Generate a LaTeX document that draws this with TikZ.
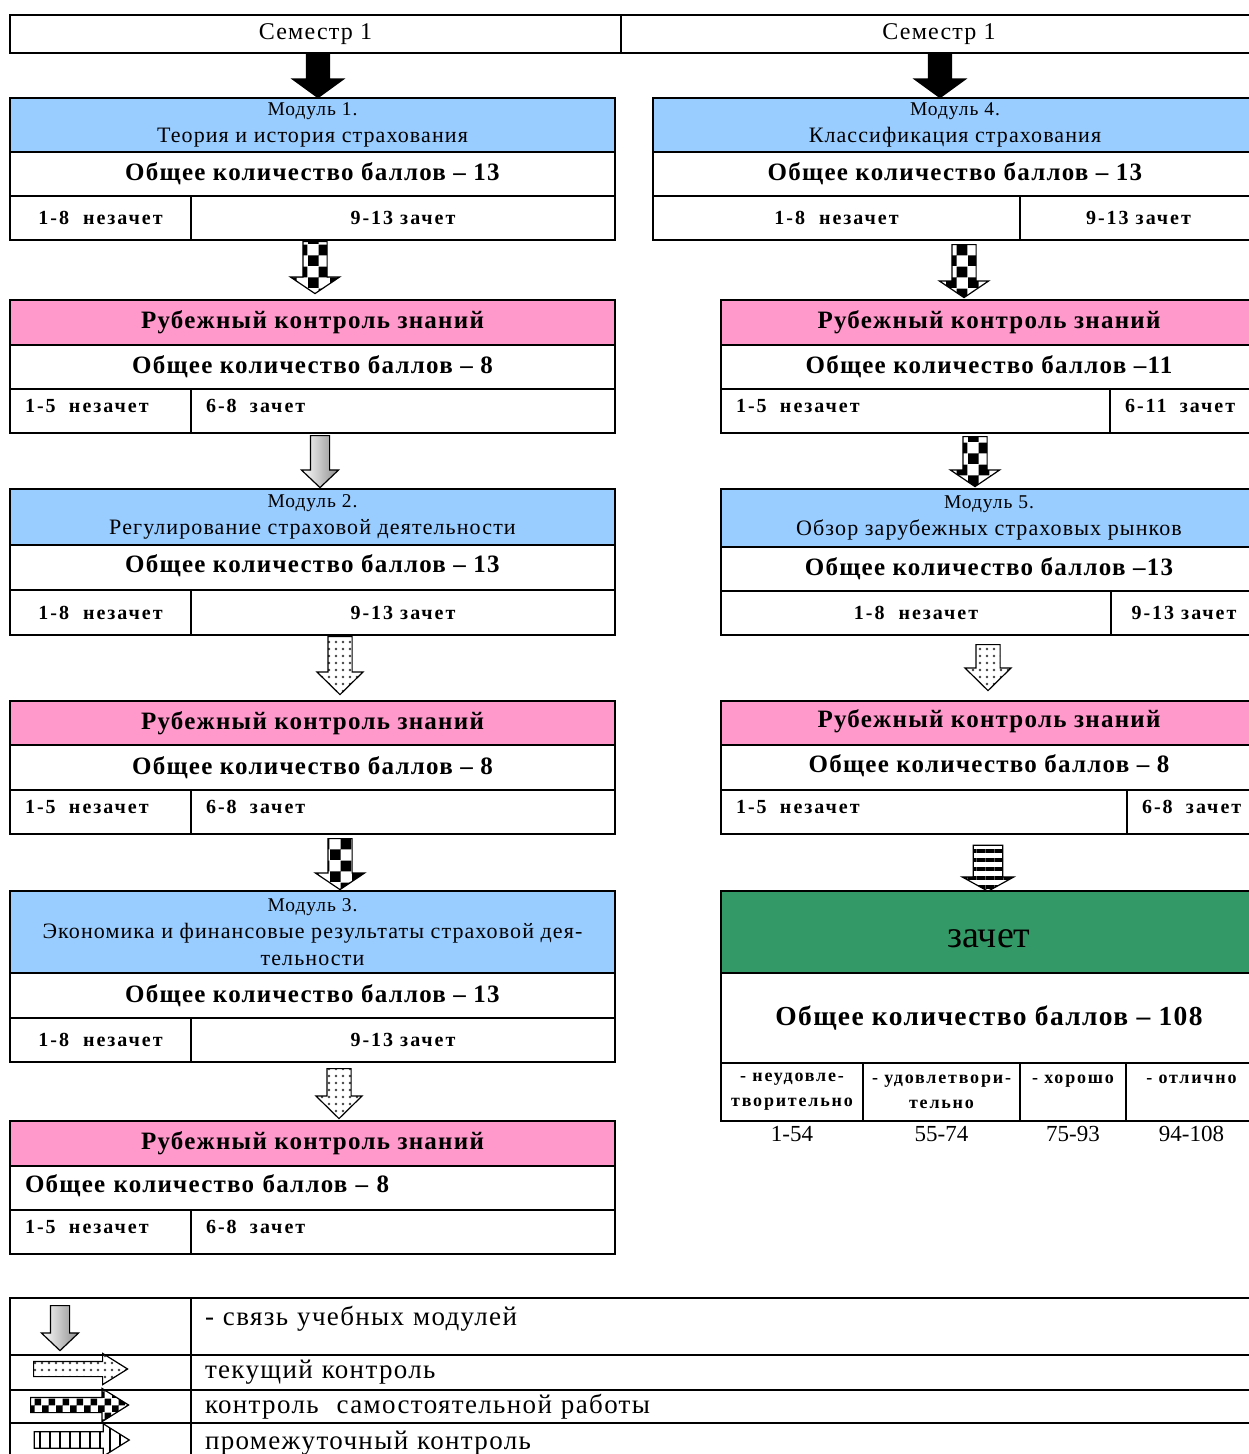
\documentclass[tikz,border=0pt]{standalone}
\usepackage{fontspec}
\setmainfont{Liberation Serif}[LetterSpace=5]
\newfontfamily\widefont{Liberation Serif}[LetterSpace=10]
\newfontfamily\plainfont{Liberation Serif}
\usetikzlibrary{shapes.arrows, patterns, patterns.meta, positioning}

\definecolor{modblue}{RGB}{153,204,255}
\definecolor{ctrlpink}{RGB}{255,153,204}
\definecolor{passgreen}{RGB}{51,153,102}

\pgfdeclarepattern{
  name=checkers, type=uncolored,
  bottom left={\pgfpoint{0pt}{0pt}},
  top right={\pgfpoint{22pt}{22pt}},
  tile size={\pgfpoint{22pt}{22pt}},
  code={\pgfpathrectangle{\pgfpoint{0pt}{0pt}}{\pgfpoint{11pt}{11pt}}
        \pgfpathrectangle{\pgfpoint{11pt}{11pt}}{\pgfpoint{11pt}{11pt}}
        \pgfusepath{fill}}}
\pgfdeclarepattern{
  name=smallcheckers, type=uncolored,
  bottom left={\pgfpoint{0pt}{0pt}},
  top right={\pgfpoint{14pt}{14pt}},
  tile size={\pgfpoint{14pt}{14pt}},
  code={\pgfpathrectangle{\pgfpoint{0pt}{0pt}}{\pgfpoint{7pt}{7pt}}
        \pgfpathrectangle{\pgfpoint{7pt}{7pt}}{\pgfpoint{7pt}{7pt}}
        \pgfusepath{fill}}}

\begin{document}
\begin{tikzpicture}[
  x=1pt, y=-1pt,
  cell/.style={draw, line width=2pt, anchor=north west, inner sep=0pt, align=center,
    font=\fontsize{22}{27}\selectfont},
  module/.style={cell, fill=modblue},
  ctrl/.style={cell, fill=ctrlpink, font=\bfseries\fontsize{25}{27}\selectfont},
  total/.style={cell, font=\bfseries\fontsize{25}{27}\selectfont},
  score/.style={cell, font=\widefont\bfseries\fontsize{20}{24}\selectfont},
  leftscore/.style={score, align=left, inner xsep=15pt, text depth=10pt},
  grade/.style={cell, font=\widefont\bfseries\fontsize{18}{25}\selectfont},
  legend/.style={cell, align=left, inner xsep=14pt, font=\fontsize{27}{29}\selectfont},
  blockarrow/.style={single arrow, draw=black, line width=1.2pt, anchor=tail},
  down/.style={blockarrow, shape border rotate=270},
  blackfill/.style={fill=black},
  checkfill/.style={pattern=checkers},
  dotfill/.style={pattern={Dots[distance=7pt, radius=1.3pt]}, pattern color=black!75},
  stripefill/.style={pattern={Lines[distance=9pt, line width=4.5pt, angle=0]}},
  gradefill/.style={left color=white, right color=black!45}
]
\useasboundingbox (0,0) rectangle (1248,1454);

% Semester header
\node[cell, minimum width=611pt, minimum height=38pt, font=\fontsize{24}{26}\selectfont] (sem1) at (9,14) {Семестр 1};
\node[cell, minimum width=636pt, minimum height=38pt, font=\fontsize{24}{26}\selectfont] (sem2) at (620,14) {Семестр 1};

% Left column: module 1
\node[module, minimum width=605pt, minimum height=54pt] (m1h) at (9,97) {{\fontsize{19.5}{27}\selectfont Модуль 1.}\\Теория и история страхования};
\node[total, minimum width=605pt, minimum height=44pt] (m1t) at (9,151) {Общее количество баллов – 13};
\node[score, minimum width=181pt, minimum height=44pt] (m1f) at (9,195) {1-8~~незачет};
\node[score, minimum width=424pt, minimum height=44pt] (m1p) at (190,195) {9-13 зачет};

% Left column: control 1
\node[ctrl, minimum width=605pt, minimum height=45pt] (r1h) at (9,299) {Рубежный контроль знаний};
\node[total, minimum width=605pt, minimum height=44pt] (r1t) at (9,344) {Общее количество баллов – 8};
\node[leftscore, text width=151pt, minimum height=44pt] (r1f) at (9,388) {1-5~~незачет};
\node[leftscore, text width=394pt, minimum height=44pt] (r1p) at (190,388) {6-8~~зачет};

% Left column: module 2
\node[module, minimum width=605pt, minimum height=56pt] (m2h) at (9,488) {{\fontsize{19.5}{27}\selectfont Модуль 2.}\\Регулирование страховой деятельности};
\node[total, minimum width=605pt, minimum height=45pt, text depth=8pt] (m2t) at (9,544) {Общее количество баллов – 13};
\node[score, minimum width=181pt, minimum height=45pt] (m2f) at (9,589) {1-8~~незачет};
\node[score, minimum width=424pt, minimum height=45pt] (m2p) at (190,589) {9-13 зачет};

% Left column: control 2
\node[ctrl, minimum width=605pt, minimum height=44pt] (r2h) at (9,700) {Рубежный контроль знаний};
\node[total, minimum width=605pt, minimum height=45pt] (r2t) at (9,744) {Общее количество баллов – 8};
\node[leftscore, text width=151pt, minimum height=44pt] (r2f) at (9,789) {1-5~~незачет};
\node[leftscore, text width=394pt, minimum height=44pt] (r2p) at (190,789) {6-8~~зачет};

% Left column: module 3
\node[module, minimum width=605pt, minimum height=82pt] (m3h) at (9,890) {{\fontsize{19.5}{27}\selectfont Модуль 3.}\\Экономика и финансовые результаты страховой дея-\\тельности};
\node[total, minimum width=605pt, minimum height=45pt] (m3t) at (9,972) {Общее количество баллов – 13};
\node[score, minimum width=181pt, minimum height=44pt] (m3f) at (9,1017) {1-8~~незачет};
\node[score, minimum width=424pt, minimum height=44pt] (m3p) at (190,1017) {9-13 зачет};

% Left column: control 3
\node[ctrl, minimum width=605pt, minimum height=45pt] (r3h) at (9,1120) {Рубежный контроль знаний};
\node[total, align=left, inner xsep=15pt, text width=575pt, minimum height=44pt, text depth=8pt] (r3t) at (9,1165) {Общее количество баллов – 8};
\node[leftscore, text width=151pt, minimum height=44pt] (r3f) at (9,1209) {1-5~~незачет};
\node[leftscore, text width=394pt, minimum height=44pt] (r3p) at (190,1209) {6-8~~зачет};

% Right column: module 4
\node[module, minimum width=604pt, minimum height=54pt] (m4h) at (652,97) {{\fontsize{19.5}{27}\selectfont Модуль 4.}\\Классификация страхования};
\node[total, minimum width=604pt, minimum height=44pt] (m4t) at (652,151) {Общее количество баллов – 13};
\node[score, minimum width=367pt, minimum height=44pt] (m4f) at (652,195) {1-8~~незачет};
\node[score, minimum width=237pt, minimum height=44pt] (m4p) at (1019,195) {9-13 зачет};

% Right column: control 4
\node[ctrl, minimum width=536pt, minimum height=45pt] (r4h) at (720,299) {Рубежный контроль знаний};
\node[total, minimum width=536pt, minimum height=44pt] (r4t) at (720,344) {Общее количество баллов –11};
\node[leftscore, text width=359pt, minimum height=44pt] (r4f) at (720,388) {1-5~~незачет};
\node[leftscore, text width=117pt, minimum height=44pt] (r4p) at (1109,388) {6-11~~зачет};

% Right column: module 5
\node[module, minimum width=536pt, minimum height=58pt] (m5h) at (720,488) {{\fontsize{19.5}{27}\selectfont Модуль 5.}\\Обзор зарубежных страховых рынков};
\node[total, minimum width=536pt, minimum height=44pt] (m5t) at (720,546) {Общее количество баллов –13};
\node[score, minimum width=390pt, minimum height=44pt] (m5f) at (720,590) {1-8~~незачет};
\node[score, minimum width=146pt, minimum height=44pt] (m5p) at (1110,590) {9-13 зачет};

% Right column: control 5
\node[ctrl, minimum width=536pt, minimum height=44pt, text depth=8pt] (r5h) at (720,700) {Рубежный контроль знаний};
\node[total, minimum width=536pt, minimum height=45pt, text depth=8pt] (r5t) at (720,744) {Общее количество баллов – 8};
\node[leftscore, text width=376pt, minimum height=44pt] (r5f) at (720,789) {1-5~~незачет};
\node[leftscore, text width=100pt, minimum height=44pt] (r5p) at (1126,789) {6-8~~зачет};

% Right column: final
\node[cell, fill=passgreen, minimum width=536pt, minimum height=82pt, text height=30pt, text depth=0pt, font=\plainfont\fontsize{38}{40}\selectfont] (pass) at (720,890) {зачет};
\node[total, minimum width=536pt, minimum height=90pt, font=\bfseries\fontsize{27.5}{30}\selectfont] (passt) at (720,972) {Общее количество баллов – 108};
\node[grade, minimum width=142pt, minimum height=58pt] (g1) at (720,1062) {- неудовле-\\творительно};
\node[grade, minimum width=157pt, minimum height=58pt] (g2) at (862,1062) {- удовлетвори-\\тельно};
\node[grade, minimum width=106pt, minimum height=58pt] (g3) at (1019,1062) {- хорошо\\~};
\node[grade, minimum width=131pt, minimum height=58pt] (g4) at (1125,1062) {- отлично\\~};
\node[below=1pt of g1, font=\plainfont\fontsize{23}{24}\selectfont] (n1) {1-54};
\node[below=1pt of g2, font=\plainfont\fontsize{23}{24}\selectfont] (n2) {55-74};
\node[below=1pt of g3, font=\plainfont\fontsize{23}{24}\selectfont] (n3) {75-93};
\node[below=1pt of g4, font=\plainfont\fontsize{23}{24}\selectfont] (n4) {94-108};

% Arrows
\node[down, blackfill, inner sep=11pt, minimum height=45pt, single arrow head extend=14pt, single arrow tip angle=108] (a0) at (318,52) {};
\node[down, blackfill, inner sep=11pt, minimum height=45pt, single arrow head extend=14pt, single arrow tip angle=108] (b0) at (940,52) {};
\node[down, checkfill, inner sep=11.5pt, minimum height=52pt, single arrow head extend=12.5pt, single arrow tip angle=112] (a1) at (315,241) {};
\node[down, gradefill, inner sep=9pt, minimum height=52pt, single arrow head extend=9pt, single arrow tip angle=93] (a2) at (320,435) {};
\node[down, dotfill, inner sep=11.5pt, minimum height=58pt, single arrow head extend=11pt, single arrow tip angle=91] (a3) at (340,636) {};
\node[down, checkfill, inner sep=11.5pt, minimum height=51pt, single arrow head extend=12.5pt, single arrow tip angle=112] (a4) at (340,838) {};
\node[down, dotfill, inner sep=11.5pt, minimum height=50pt, single arrow head extend=11pt, single arrow tip angle=91] (a5) at (339,1068) {};
\node[down, checkfill, inner sep=11.5pt, minimum height=53pt, single arrow head extend=12.5pt, single arrow tip angle=112] (b1) at (964,244) {};
\node[down, checkfill, inner sep=11.5pt, minimum height=50pt, single arrow head extend=12.5pt, single arrow tip angle=112] (b2) at (975,436) {};
\node[down, dotfill, inner sep=11.5pt, minimum height=46pt, single arrow head extend=11pt, single arrow tip angle=91] (b3) at (988,644) {};
\node[down, stripefill, inner sep=12.5pt, minimum height=46pt, single arrow head extend=11pt, single arrow tip angle=122] (b4) at (988,843) {};

% Legend
\node[cell, minimum width=181pt, minimum height=57pt] (l1a) at (9,1297) {};
\node[legend, text width=1038pt, minimum height=57pt, text depth=22pt] (l1b) at (190,1297) {- связь учебных модулей};
\node[cell, minimum width=181pt, minimum height=35pt] (l2a) at (9,1354) {};
\node[legend, text width=1038pt, minimum height=35pt] (l2b) at (190,1354) {текущий контроль};
\node[cell, minimum width=181pt, minimum height=33pt] (l3a) at (9,1389) {};
\node[legend, text width=1038pt, minimum height=33pt] (l3b) at (190,1389) {контроль~~самостоятельной работы};
\node[cell, minimum width=181pt, minimum height=40pt] (l4a) at (9,1422) {};
\node[legend, text width=1038pt, minimum height=40pt] (l4b) at (190,1422) {промежуточный контроль};
\node[down, gradefill, inner sep=9pt, minimum height=45pt, single arrow head extend=9pt, single arrow tip angle=93] (k1) at (60,1305) {};
\node[blockarrow, dotfill, inner sep=7pt, minimum height=94pt, single arrow head extend=8pt, single arrow tip angle=64] (k2) at (33,1369) {};
\node[blockarrow, pattern=smallcheckers, inner sep=7pt, minimum height=98pt, single arrow head extend=9pt, single arrow tip angle=64] (k3) at (30,1405) {};
\node[blockarrow, pattern={Lines[distance=10pt, line width=2.5pt, angle=90]}, inner sep=7pt, minimum height=95pt, single arrow head extend=8pt, single arrow tip angle=64] (k4) at (33,1440) {};

\end{tikzpicture}
\end{document}
